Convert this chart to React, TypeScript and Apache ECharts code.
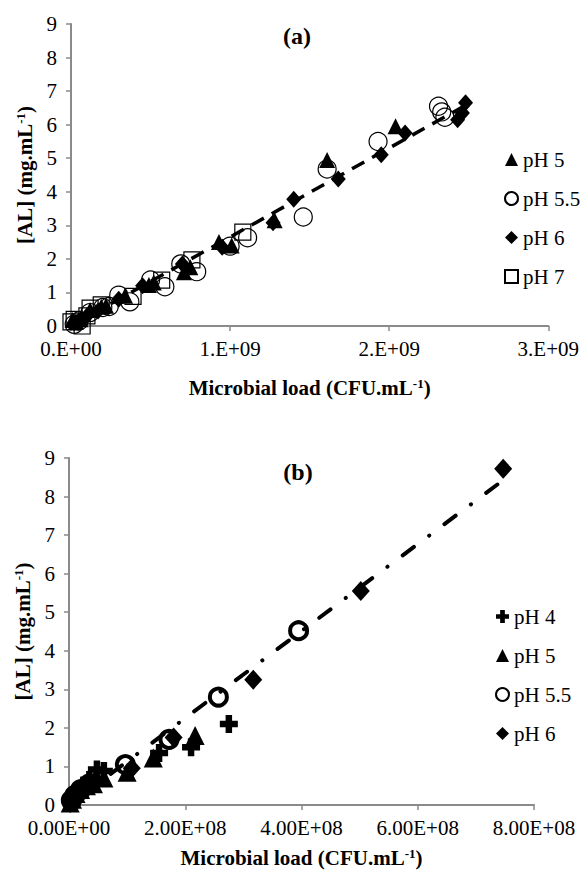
import React, { useEffect, useRef } from 'react';
import * as echarts from 'echarts';

const FONT = 'Liberation Serif, Times New Roman, serif';

// ---------- Panel (a): [microbial load (CFU/mL), AL (mg/mL)] ----------
const aPH5 = [[0.01e9, 0.18], [0.03e9, 0.12], [0.06e9, 0.2], [0.12e9, 0.48], [0.19e9, 0.57], [0.22e9, 0.6], [0.34e9, 0.9], [0.49e9, 1.22], [0.52e9, 1.3], [0.71e9, 1.6], [0.75e9, 1.75], [0.93e9, 2.5], [1.01e9, 2.4], [1.28e9, 3.15], [1.61e9, 4.95], [2.04e9, 5.95]];
const aPH55 = [[0.02e9, 0.05], [0.05e9, 0.15], [0.12e9, 0.4], [0.2e9, 0.55], [0.24e9, 0.58], [0.3e9, 0.92], [0.37e9, 0.72], [0.5e9, 1.37], [0.59e9, 1.17], [0.69e9, 1.85], [0.79e9, 1.62], [1.0e9, 2.38], [1.11e9, 2.63], [1.46e9, 3.25], [1.61e9, 4.68], [1.93e9, 5.5], [2.31e9, 6.55], [2.33e9, 6.38], [2.35e9, 6.22]];
const aPH6 = [[0.02e9, 0.1], [0.05e9, 0.15], [0.1e9, 0.3], [0.17e9, 0.45], [0.3e9, 0.8], [0.45e9, 1.2], [0.7e9, 1.85], [0.95e9, 2.35], [1.27e9, 3.08], [1.4e9, 3.78], [1.68e9, 4.38], [1.95e9, 5.1], [2.1e9, 5.75], [2.43e9, 6.15], [2.46e9, 6.35], [2.48e9, 6.65]];
const aPH7 = [[0.0, 0.12], [0.02e9, 0.2], [0.07e9, 0.0], [0.1e9, 0.3], [0.12e9, 0.53], [0.19e9, 0.63], [0.39e9, 0.88], [0.57e9, 1.37], [0.76e9, 1.97], [1.08e9, 2.8]];
const aTrend = [[0, 0], [2.5e9, 6.63]];

// ---------- Panel (b) ----------
const bPH4 = [[0.05e8, 0.1], [0.1e8, 0.2], [0.15e8, 0.35], [0.25e8, 0.5], [0.35e8, 0.65], [0.48e8, 0.92], [0.6e8, 0.88], [1.55e8, 1.35], [2.1e8, 1.5], [2.75e8, 2.1]];
const bPH5 = [[0.02e8, 0.05], [0.06e8, 0.15], [0.12e8, 0.3], [0.2e8, 0.4], [0.3e8, 0.5], [0.42e8, 0.55], [0.6e8, 0.7], [1.0e8, 0.85], [1.45e8, 1.22], [2.17e8, 1.8]];
const bPH55 = [[0.04e8, 0.12], [0.1e8, 0.25], [0.2e8, 0.4], [0.35e8, 0.55], [0.97e8, 1.05], [1.72e8, 1.7], [2.57e8, 2.8], [3.95e8, 4.52]];
const bPH6 = [[0.02e8, 0.05], [0.05e8, 0.18], [0.1e8, 0.28], [0.2e8, 0.42], [0.3e8, 0.55], [0.45e8, 0.62], [1.08e8, 0.95], [1.8e8, 1.75], [3.17e8, 3.25], [5.02e8, 5.55], [7.47e8, 8.72]];
const bTrend = [[0, 0], [7.43e8, 8.38]];

const legendA = ['pH 5', 'pH 5.5', 'pH 6', 'pH 7'];
const legendB = ['pH 4', 'pH 5', 'pH 5.5', 'pH 6'];
const SUFFIX_B = ' (b)';

const PLUS = 'path://M3.2,0H6.8V3.2H10V6.8H6.8V10H3.2V6.8H0V3.2H3.2Z';

function sci(v: number, digits: number) {
  const [m, e] = v.toExponential(digits).split('e');
  const n = parseInt(e, 10);
  return (digits === 0 ? m + '.' : m) + 'E' + (n < 0 ? '-' : '+') + String(Math.abs(n)).padStart(2, '0');
}

const AXIS_COLOR = '#8a8a8a';

const richName = {
  n: { fontFamily: FONT, fontSize: 21, fontWeight: 'bold', color: '#000', lineHeight: 22 },
  s: { fontFamily: FONT, fontSize: 13, fontWeight: 'bold', color: '#000', verticalAlign: 'top', lineHeight: 14 },
};

function yAxis(gridIndex: number, nameGap: number) {
  return {
    type: 'value', gridIndex, min: 0, max: 9, interval: 1,
    name: '{n|[AL] (mg.mL}{s|-1}{n|)}',
    nameLocation: 'middle', nameGap,
    nameTextStyle: { rich: richName },
    axisLine: { show: true, lineStyle: { color: AXIS_COLOR, width: 2 } },
    axisTick: { show: true, inside: false, length: 5, lineStyle: { color: AXIS_COLOR, width: 1.5 } },
    axisLabel: { fontFamily: FONT, fontSize: 21, color: '#000', margin: 14 },
    splitLine: { show: false },
  };
}

function xAxis(gridIndex: number, max: number, interval: number, digits: number, nameGap: number) {
  return {
    type: 'value', gridIndex, min: 0, max, interval,
    name: '{n|Microbial load (CFU.mL}{s|-1}{n|)}',
    nameLocation: 'middle', nameGap,
    nameTextStyle: { rich: richName },
    axisLine: { show: true, onZero: false, lineStyle: { color: AXIS_COLOR, width: 2 } },
    axisTick: { show: true, inside: false, length: 5, lineStyle: { color: AXIS_COLOR, width: 1.5 } },
    axisLabel: { fontFamily: FONT, fontSize: 21, color: '#000', margin: 12, formatter: (v: number) => sci(v, digits) },
    splitLine: { show: false },
  };
}

export default function App() {
  const ref = useRef<HTMLDivElement>(null);
  useEffect(() => {
    if (!ref.current) return;
    const chart = echarts.init(ref.current, undefined, { renderer: 'svg' });
    const black = '#000';
    const hollow = 'rgba(255,255,255,0)';
    const solid = { color: black, opacity: 1 };
    const open = (bw: number) => ({ color: hollow, borderColor: black, borderWidth: bw, opacity: 1 });
    const option: any = {
      animation: false,
      backgroundColor: '#fff',
      textStyle: { fontFamily: FONT },
      grid: [
        { left: 71, top: 24, width: 480, height: 302 },
        { left: 69, top: 458, width: 465, height: 347 },
      ],
      xAxis: [xAxis(0, 3e9, 1e9, 0, 51), xAxis(1, 8e8, 2e8, 2, 42)],
      yAxis: [yAxis(0, 30), yAxis(1, 31)],
      legend: [
        {
          data: legendA, orient: 'vertical', left: 499, top: 144, itemWidth: 13, itemHeight: 13, itemGap: 18,
          textStyle: { fontFamily: FONT, fontSize: 21, color: '#000', lineHeight: 21 },
          selectedMode: false,
        },
        {
          data: legendB.map((n) => n + SUFFIX_B), orient: 'vertical', left: 490, top: 601, itemWidth: 13, itemHeight: 13, itemGap: 18,
          formatter: (n: string) => n.replace(SUFFIX_B, ''),
          textStyle: { fontFamily: FONT, fontSize: 21, color: '#000', lineHeight: 21 },
          selectedMode: false,
        },
      ],
      graphic: [
        { type: 'text', x: 297, y: 36, style: { text: '(a)', fontFamily: FONT, fontSize: 24, fontWeight: 'bold', fill: '#000', textAlign: 'center', textVerticalAlign: 'middle' } },
        { type: 'text', x: 298, y: 472, style: { text: '(b)', fontFamily: FONT, fontSize: 24, fontWeight: 'bold', fill: '#000', textAlign: 'center', textVerticalAlign: 'middle' } },
      ],
      series: [
        { name: 'pH 5', type: 'scatter', xAxisIndex: 0, yAxisIndex: 0, data: aPH5, symbol: 'triangle', symbolSize: 16, itemStyle: solid },
        { name: 'pH 5.5', type: 'scatter', xAxisIndex: 0, yAxisIndex: 0, data: aPH55, symbol: 'circle', symbolSize: 18, itemStyle: open(1.2) },
        { name: 'pH 6', type: 'scatter', xAxisIndex: 0, yAxisIndex: 0, data: aPH6, symbol: 'diamond', symbolSize: [15, 17], itemStyle: solid },
        { name: 'pH 7', type: 'scatter', xAxisIndex: 0, yAxisIndex: 0, data: aPH7, symbol: 'rect', symbolSize: 16, itemStyle: open(1.2) },
        { name: 'trend a', type: 'line', xAxisIndex: 0, yAxisIndex: 0, data: aTrend, showSymbol: false, symbol: 'none', z: 5, lineStyle: { color: black, width: 3.5, type: [14, 9], opacity: 1 } },

        { name: 'pH 4' + SUFFIX_B, type: 'scatter', xAxisIndex: 1, yAxisIndex: 1, data: bPH4, symbol: PLUS, symbolSize: 18, itemStyle: solid },
        { name: 'pH 5' + SUFFIX_B, type: 'scatter', xAxisIndex: 1, yAxisIndex: 1, data: bPH5, symbol: 'triangle', symbolSize: 19, itemStyle: solid },
        { name: 'pH 5.5' + SUFFIX_B, type: 'scatter', xAxisIndex: 1, yAxisIndex: 1, data: bPH55, symbol: 'circle', symbolSize: 17, itemStyle: open(4) },
        { name: 'pH 6' + SUFFIX_B, type: 'scatter', xAxisIndex: 1, yAxisIndex: 1, data: bPH6, symbol: 'diamond', symbolSize: [18, 20], itemStyle: solid },
        { name: 'trend b', type: 'line', xAxisIndex: 1, yAxisIndex: 1, data: bTrend, showSymbol: false, symbol: 'none', z: 5, lineStyle: { color: black, width: 4, type: [14, 19, 0.1, 19], cap: 'round', opacity: 1 } },
      ],
    };
    chart.setOption(option);
    return () => chart.dispose();
  }, []);
  return <div ref={ref} style={{ position: 'absolute', left: 0, top: 0, width: 582, height: 872 }} />;
}
